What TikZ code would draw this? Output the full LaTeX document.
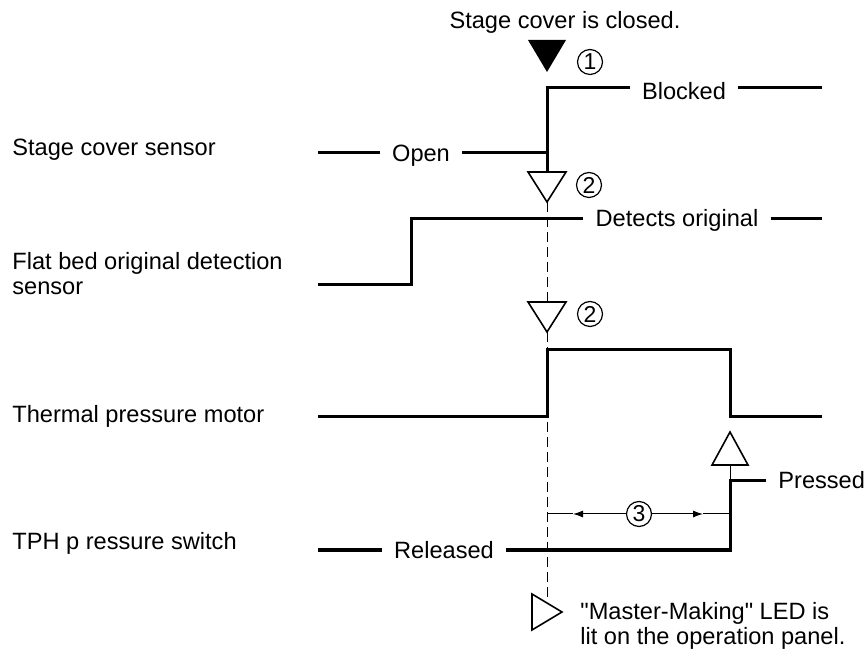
\documentclass[tikz,border=0pt]{standalone}
\usepackage{fontspec}
\setmainfont{Liberation Sans}
\usetikzlibrary{arrows.meta}
\newcommand\straightquote{\XeTeXglyph\XeTeXcharglyph"22\relax}

\begin{document}
\begin{tikzpicture}[x=0.5pt, y=-0.5pt,
		sig/.style={line width=1.5pt, line join=miter},
		lbl/.style={inner sep=0pt, font=\fontsize{11.8}{12.5}\selectfont},
		lvl/.style={lbl, inner xsep=6pt},
		num/.style={circle, draw, line width=0.6pt, inner sep=0pt, minimum size=12.5pt, font=\fontsize{11.5}{11.5}\selectfont},
		evmark/.style={line width=0.8pt, line join=miter},
		guide/.style={line width=0.5pt, dash pattern=on 5pt off 2.5pt},
		dim/.style={line width=0.5pt}]
		\useasboundingbox (0,0) rectangle (866,656);
		% signal names
		\node [lbl, anchor=base west] (scs) at (12,156) {Stage cover sensor};
		\node [lbl, anchor=base west, align=left] (fbs) at (12,295) {Flat bed original detection\\sensor};
		\node [lbl, anchor=base west] (tpm) at (12,423) {Thermal pressure motor};
		\node [lbl, anchor=base west] (tps) at (12,550) {TPH p ressure switch};
		% level labels
		\coordinate (ylo1) at (0,153);
		\coordinate (yhi1) at (0,88);
		\coordinate (yhi2) at (0,219);
		\coordinate (ylo4) at (0,550);
		\coordinate (yhi4) at (0,481);
		\node [lvl, anchor=base] (open) at (421,162) {Open};
		\node [lvl, anchor=base] (blocked) at (684,100) {Blocked};
		\node [lvl, anchor=base] (detects) at (677,227) {Detects original};
		\node [lvl, anchor=base] (released) at (444,559) {Released};
		\node [lvl, anchor=base west] (pressed) at (766,489) {Pressed};
		% event marks
		\coordinate (m1) at (547,72);
		\coordinate (m2) at (547,202);
		\coordinate (m3) at (547,332);
		\coordinate (m4) at (730,432);
		\coordinate (m5) at (562,612);
		\fill [evmark] (m1) -- ++(-19,-32) -- ++(38,0) -- cycle;
		\draw [evmark] (m2) -- ++(-19,-30) -- ++(38,0) -- cycle;
		\draw [evmark] (m3) -- ++(-19,-30) -- ++(38,0) -- cycle;
		\draw [evmark] (m4) -- ++(-18,33) -- ++(36,0) -- cycle;
		\draw [evmark] (m5) -- ++(-30,-18) -- ++(0,36) -- cycle;
		\node [num] (n1) at (590,62) {1};
		\node [num] (n2) at (589,185) {2};
		\node [num] (n2b) at (590,314) {2};
		\node [lbl, anchor=base] (closed) at (565,29) {Stage cover is closed.};
		\node [lbl, anchor=base west, align=left] (led) at (580,644) {\straightquote Master-Making\straightquote{} LED is\\lit on the operation panel.};
		% waveforms
		\draw [sig] (318,153) -- (open.west |- ylo1);
		\draw [sig] (open.east |- ylo1) -- (547,153);
		\draw [sig] (547,172) -- (547,88) -- (blocked.west |- yhi1);
		\draw [sig] (blocked.east |- yhi1) -- (822,88);
		\draw [sig] (318,285) -- (411,285) -- (411,219) -- (detects.west |- yhi2);
		\draw [sig] (detects.east |- yhi2) -- (822,219);
		\draw [sig] (318,417) -- (547,417) -- (547,350) -- (730,350) -- (730,417) -- (822,417);
		\draw [sig] (318,550) -- (released.west |- ylo4);
		\draw [sig] (released.east |- ylo4) -- (730,550) -- (730,481) -- (pressed.west |- yhi4);
		\draw [dim] (730,465) -- (730,481);
		% timing guide
		\draw [guide] (m2) -- (547,302);
		\draw [guide] (m3) -- (547,601);
		\node [num] (n3) at (639,514) {3};
		\draw [dim] (547,514) -- (573,514);
		\draw [dim, {Latex[length=5pt, width=3.5pt]}-] (573,514) -- (n3.west);
		\draw [dim, -{Latex[length=5pt, width=3.5pt]}] (n3.east) -- (703,514);
		\draw [dim] (703,514) -- (730,514);
	\end{tikzpicture}
\end{document}
